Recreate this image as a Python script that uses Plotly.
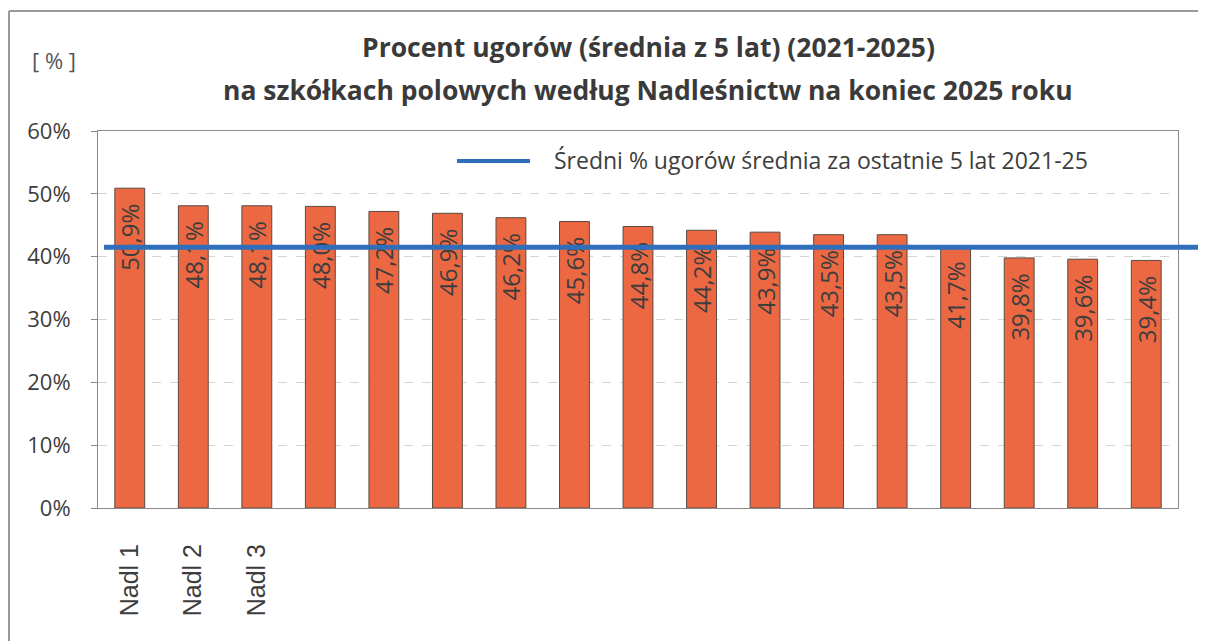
import plotly.graph_objects as go

# ---- data ----
tick_labels = ["Nadl 1", "Nadl 2", "Nadl 3", "", "", "", "", "", "", "", "", "", "", "", "", "", ""]
values = [50.9, 48.1, 48.1, 48.0, 47.2, 46.9, 46.2, 45.6, 44.8, 44.2, 43.9, 43.5, 43.5, 41.7, 39.8, 39.6, 39.4]
avg_value = 41.5
avg_label = "Średni % ugorów średnia za ostatnie 5 lat 2021-25"
title_line1 = "Procent ugorów (średnia z 5 lat) (2021-2025)"
title_line2 = "na szkółkach polowych według Nadleśnictw na koniec 2025 roku"
y_unit = "[ % ]"
y_ticks = [0, 10, 20, 30, 40, 50, 60]

positions = list(range(len(values)))
bar_text = [f"{v:.1f}".replace(".", ",") + "%\u00a0\u00a0" for v in values]

# page-pixel layout (page body has an 8px offset)
OFF = 8
PL, PR, PT, PB = 98, 1178, 131, 508       # plot area in page pixels
W, H = 1206 - OFF, 641 - OFF
def px(x):
    return (x - PL) / (PR - PL)
def py(y):
    return (PB - y) / (PB - PT)

TXT = "#3d3d3d"
BLUE = "#2F6EBB"

fig = go.Figure()
fig.add_trace(go.Bar(
    x=positions, y=values,
    text=bar_text, textposition="inside", insidetextanchor="end",
    textangle=-90, constraintext="none",
    textfont=dict(family="Open Sans", size=24, color=TXT),
    marker=dict(color="#EC6843", line=dict(color="#5a4a42", width=1)),
    showlegend=False, hoverinfo="skip",
))

shapes = [
    dict(type="line", xref="paper", yref="y", x0=px(104), x1=px(1200), y0=avg_value, y1=avg_value,
         line=dict(color=BLUE, width=5), layer="above"),
    dict(type="line", xref="paper", yref="paper", x0=px(457), x1=px(530), y0=py(161), y1=py(161),
         line=dict(color=BLUE, width=4)),
    dict(type="line", xref="paper", yref="paper", x0=px(9), x1=px(1206), y0=py(11), y1=py(11),
         line=dict(color="#9a9a9a", width=2)),
    dict(type="line", xref="paper", yref="paper", x0=px(9), x1=px(9), y0=py(11), y1=py(641),
         line=dict(color="#9a9a9a", width=2)),
]

annotations = [
    dict(text=f"<b>{title_line1}</b>", xref="paper", yref="paper", x=px(648), y=py(47),
         xanchor="center", yanchor="middle", showarrow=False,
         font=dict(family="Open Sans", size=26.5, color="#3a3a3a")),
    dict(text=f"<b>{title_line2}</b>", xref="paper", yref="paper", x=px(648), y=py(90),
         xanchor="center", yanchor="middle", showarrow=False,
         font=dict(family="Open Sans", size=26.5, color="#3a3a3a")),
    dict(text=y_unit, xref="paper", yref="paper", x=px(54), y=py(60),
         xanchor="center", yanchor="middle", showarrow=False,
         font=dict(family="Open Sans", size=22, color="#555555")),
    dict(text=avg_label, xref="paper", yref="paper", x=px(552), y=py(160),
         xanchor="left", yanchor="middle", showarrow=False,
         font=dict(family="Open Sans", size=23, color=TXT)),
]

fig.update_layout(
    width=W, height=H,
    margin=dict(l=PL - OFF, r=W - (PR - OFF), t=PT - OFF, b=H - (PB - OFF), pad=0),
    paper_bgcolor="white", plot_bgcolor="white",
    bargap=0.53,
    shapes=shapes, annotations=annotations,
    showlegend=False,
)
fig.update_xaxes(
    range=[-0.5, len(values) - 0.5],
    tickmode="array", tickvals=positions, ticktext=tick_labels,
    tickangle=-90, ticks="", ticklabelstandoff=25,
    tickfont=dict(family="Liberation Sans", size=25, color=TXT),
    showline=True, linecolor="#8a8a8a", linewidth=1, mirror=True,
    showgrid=False, zeroline=False,
)
fig.update_yaxes(
    range=[0, 60], tickmode="array", tickvals=y_ticks,
    ticktext=[f"{t}%" for t in y_ticks],
    ticks="outside", ticklen=6, tickcolor="#8a8a8a", ticklabelstandoff=16,
    tickfont=dict(family="Open Sans", size=22, color=TXT),
    showline=True, linecolor="#8a8a8a", linewidth=1, mirror=True,
    showgrid=True, gridcolor="#d4d4d4", griddash="dash", gridwidth=1,
    zeroline=False,
)

fig.write_html("out.html")
